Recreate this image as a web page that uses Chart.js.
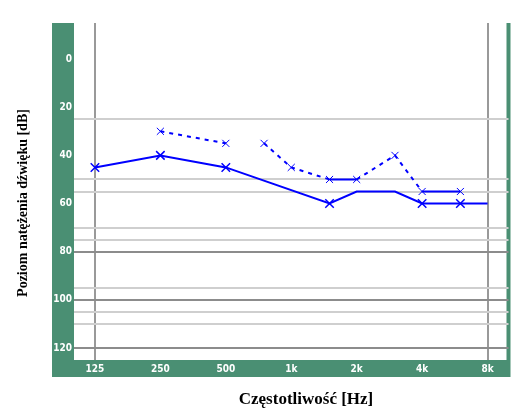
<!DOCTYPE html>
<html>
<head>
<meta charset="utf-8">
<script src="https://cdn.jsdelivr.net/npm/chart.js@4/dist/chart.umd.min.js"></script>
<style>
  html, body { margin: 0; padding: 0; background: #fff; }
  #wrap { width: 516px; height: 409px; }
</style>
</head>
<body>
<div id="wrap"><canvas id="chart_canvas" width="516" height="409"></canvas></div>
<script>
// ============================================================
// Data
// ============================================================
var frequencies = [125, 250, 500, 750, 1000, 1500, 2000, 3000, 4000, 6000, 8000];
var solidDb     = [45, 40, 45, null, null, 60, 55, 55, 60, 60, 60];
var solidMarked = [true, true, true, false, false, true, false, false, true, true, false];
var dashedDb    = [null, 30, 35, 35, 45, 50, 50, 40, 55, 55, null];
var dashedGapAfter = 500;          // no line between 500 and 750
var dashedSolidFrom = [1500, 4000]; // these segments are drawn solid

var xTickValues = [125, 250, 500, 1000, 2000, 4000, 8000];
var xTickLabels = ["125", "250", "500", "1k", "2k", "4k", "8k"];
var xLines = [125, 8000];
var yTickLabels = [0, 20, 40, 60, 80, 100, 120];
var darkLines  = [80, 100, 120];
var lightLines = [25, 50, 55, 70, 75, 95, 105, 110];

var GREEN = "#4a8f73";
var BLUE = "#0000ff";

// ============================================================
// Green frame + axis titles
// ============================================================
var framePlugin = {
  id: "frame",
  beforeDraw: function (chart) {
    var c = chart.ctx, a = chart.chartArea;
    c.save();
    c.fillStyle = GREEN;
    c.fillRect(a.left - 22, a.top, 22, a.bottom - a.top + 17);
    c.fillRect(a.left - 22, a.bottom, a.right - a.left + 24, 17);
    c.fillRect(a.right - 2, a.top, 4, a.bottom - a.top);
    c.restore();
  },
  afterDraw: function (chart) {
    var c = chart.ctx;
    c.save();
    c.fillStyle = "#000";
    c.textAlign = "center";
    c.textBaseline = "middle";
    c.font = "bold 17px 'Liberation Serif'";
    c.fillText("Częstotliwość [Hz]", 306, 400);
    c.translate(23, 203);
    c.rotate(-Math.PI / 2);
    c.font = "bold 14px 'Liberation Serif'";
    c.fillText("Poziom natężenia dźwięku [dB]", 0, 0);
    c.restore();
  }
};

function points(values) {
  return frequencies.map(function (f, i) { return { x: f, y: values[i] }; });
}

var gapIdx = frequencies.indexOf(dashedGapAfter);
var solidIdx = dashedSolidFrom.map(function (f) { return frequencies.indexOf(f); });

new Chart(document.getElementById("chart_canvas"), {
  type: "line",
  data: {
    datasets: [{
      label: "solid",
      data: points(solidDb),
      borderColor: BLUE,
      backgroundColor: BLUE,
      borderWidth: 2,
      spanGaps: true,
      pointStyle: "crossRot",
      pointRadius: solidMarked.map(function (m) { return m ? 6 : 0; }),
      pointBorderWidth: 1.5,
      pointBorderColor: BLUE
    }, {
      label: "dashed",
      data: points(dashedDb),
      borderColor: BLUE,
      backgroundColor: BLUE,
      borderWidth: 2,
      borderDash: [4, 5],
      pointStyle: "crossRot",
      pointRadius: 5,
      pointBorderWidth: 1,
      pointBorderColor: BLUE,
      segment: {
        borderColor: function (ctx) { return ctx.p0DataIndex === gapIdx ? "rgba(0,0,0,0)" : undefined; },
        borderDash: function (ctx) { return solidIdx.indexOf(ctx.p0DataIndex) >= 0 ? [] : undefined; }
      }
    }]
  },
  plugins: [framePlugin],
  options: {
    responsive: false,
    animation: false,
    layout: { padding: { top: 23, right: 4, bottom: 32, left: 0 } },
    plugins: { legend: { display: false }, tooltip: { enabled: false } },
    scales: {
      x: {
        type: "logarithmic",
        min: 125 / Math.pow(2, 0.32),
        max: 8000 * Math.pow(2, 0.32),
        afterBuildTicks: function (s) {
          s.ticks = xTickValues.map(function (v) { return { value: v }; });
        },
        afterFit: function (s) { s.height = 17; },
        border: { display: false },
        grid: {
          lineWidth: 2,
          drawTicks: false,
          color: function (ctx) {
            return ctx.tick && xLines.indexOf(ctx.tick.value) >= 0 ? "#999" : "rgba(0,0,0,0)";
          }
        },
        ticks: {
          color: "#fff",
          padding: 3,
          autoSkip: false,
          maxRotation: 0,
          font: { family: "DejaVu Sans Condensed", size: 10, weight: "bold" },
          callback: function (v) {
            var i = xTickValues.indexOf(v);
            return i >= 0 ? xTickLabels[i] : "";
          }
        }
      },
      y: {
        reverse: true,
        min: -15,
        max: 125,
        afterFit: function (s) { s.width = 74; },
        border: { display: false },
        grid: {
          drawTicks: false,
          lineWidth: 2,
          color: function (ctx) {
            var v = ctx.tick.value;
            if (darkLines.indexOf(v) >= 0) return "#8c8c8c";
            if (lightLines.indexOf(v) >= 0) return "#cfcfcf";
            return "rgba(0,0,0,0)";
          }
        },
        ticks: {
          stepSize: 5,
          color: "#fff",
          padding: 2,
          autoSkip: false,
          font: { family: "DejaVu Sans Condensed", size: 10, weight: "bold" },
          callback: function (v) { return yTickLabels.indexOf(v) >= 0 ? String(v) : ""; }
        }
      }
    }
  }
});
</script>
</body>
</html>
